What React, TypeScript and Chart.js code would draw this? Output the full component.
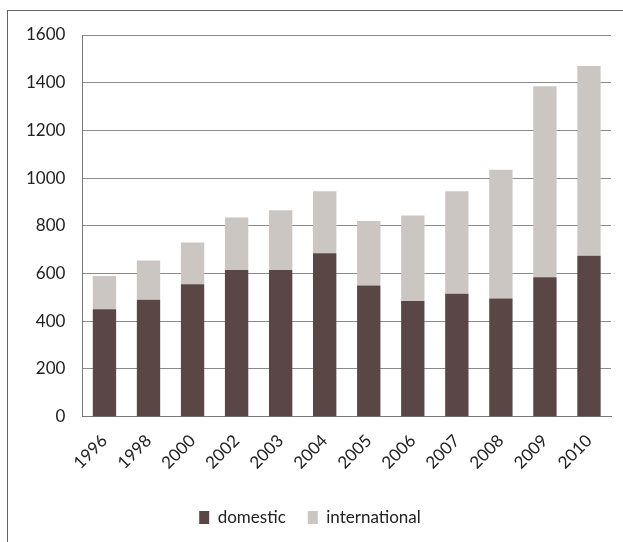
import React, { useEffect, useRef } from "react";
import { Chart, registerables } from "chart.js";

Chart.register(...registerables);

const years = ["1996", "1998", "2000", "2002", "2003", "2004", "2005", "2006", "2007", "2008", "2009", "2010"];
const domestic = [450, 490, 555, 615, 615, 685, 550, 485, 515, 495, 585, 675];
const international = [140, 165, 175, 220, 250, 260, 270, 358, 430, 540, 800, 795];
const yTicks = [0, 200, 400, 600, 800, 1000, 1200, 1400, 1600];

export default function App() {
  const ref = useRef<HTMLCanvasElement | null>(null);
  useEffect(() => {
    if (!ref.current) return;
    const font = { family: "Lato, 'Open Sans', sans-serif", size: 17 };
    const chart = new Chart(ref.current, {
      type: "bar",
      data: {
        labels: years,
        datasets: [
          { label: "domestic", data: domestic, backgroundColor: "#5a4644", barPercentage: 0.53, categoryPercentage: 1 },
          { label: "international", data: international, backgroundColor: "#ccc6c3", barPercentage: 0.53, categoryPercentage: 1 },
        ],
      },
      options: {
        animation: false,
        responsive: false,
        maintainAspectRatio: false,
        layout: { padding: { left: 9, right: 12, top: 35, bottom: 6 } },
        plugins: {
          tooltip: { enabled: false },
          legend: {
            position: "bottom",
            labels: {
              font: { ...font, size: 17 },
              color: "#222",
              boxWidth: 10,
              boxHeight: 13,
              padding: 22,
            },
          },
        },
        scales: {
          x: {
            stacked: true,
            grid: { display: false, drawTicks: false },
            border: { display: true, color: "#777", width: 1 },
            ticks: { font, color: "#222", maxRotation: 45, minRotation: 45, padding: 14 },
          },
          y: {
            stacked: true,
            min: 0,
            max: 1600,
            afterBuildTicks: (axis: any) => {
              axis.ticks = yTicks.map((v) => ({ value: v }));
            },
            grid: { color: "#8a8a8a", lineWidth: 1, drawTicks: false },
            border: { display: true, color: "#777", width: 1 },
            ticks: { font, color: "#222", padding: 17, callback: (v: any) => String(v) },
          },
        },
      },
    });
    return () => chart.destroy();
  }, []);
  return (
    <div style={{ position: "fixed", left: 0, top: 0, width: 623, height: 542, background: "#fff" }}>
      <div
        style={{
          position: "absolute",
          left: 7,
          top: 10,
          width: 616,
          height: 532,
          borderLeft: "1px solid #666",
          borderTop: "1px solid #666",
        }}
      />
      <canvas ref={ref} width={623} height={542} style={{ position: "absolute", left: 0, top: 0 }} />
    </div>
  );
}
